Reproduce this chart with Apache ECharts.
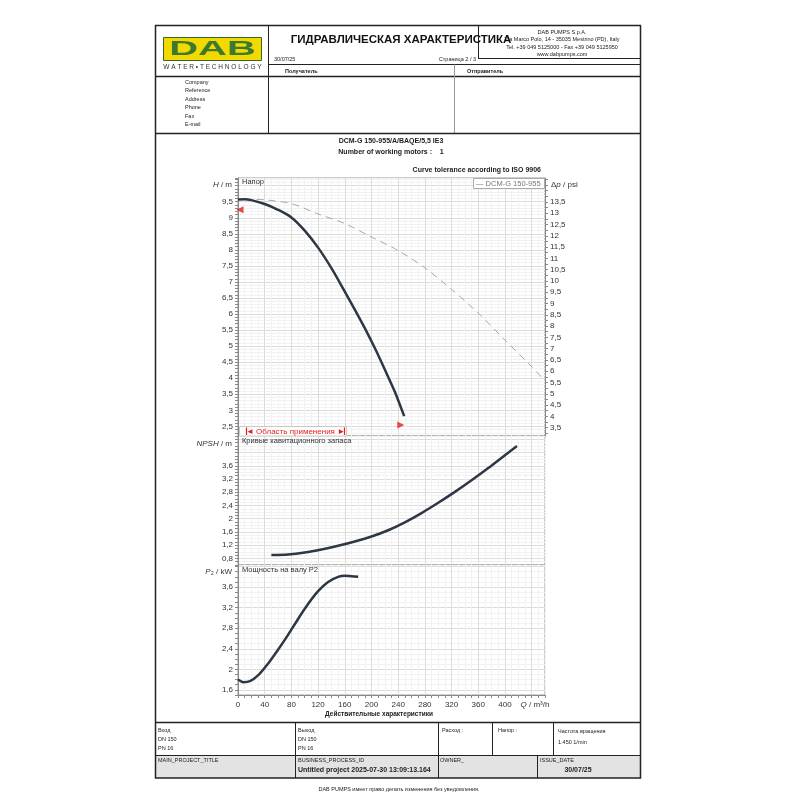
<!DOCTYPE html>
<html>
<head>
<meta charset="utf-8">
<title>DCM-G 150-955</title>
<script src="https://cdn.jsdelivr.net/npm/echarts@6/dist/echarts.min.js"></script>
<style>
  html, body { margin: 0; background: #fff; }
  #chart { width: 800px; height: 800px; }
</style>
</head>
<body>
<div id="chart"></div>
<script>
// tick labels
const qLabels = [0, 40, 80, 120, 160, 200, 240, 280, 320, 360, 400]
const hLabels = [2.5, 3, 3.5, 4, 4.5, 5, 5.5, 6, 6.5, 7, 7.5, 8, 8.5, 9, 9.5]
const psiLabels = [3.5, 4, 4.5, 5, 5.5, 6, 6.5, 7, 7.5, 8, 8.5, 9, 9.5, 10, 10.5, 11, 11.5, 12, 12.5, 13, 13.5]
const npshLabels = [0.8, 1.2, 1.6, 2, 2.4, 2.8, 3.2, 3.6]
const powerLabels = [1.6, 2, 2.4, 2.8, 3.2, 3.6]

// head curve (m)
const qHead = [0, 10, 20, 40, 60, 80, 100, 120, 140, 160, 175, 190, 205, 220, 235, 243, 249]
const head = [9.57, 9.58, 9.55, 9.43, 9.25, 9.01, 8.6, 8.07, 7.43, 6.7, 6.14, 5.56, 4.94, 4.27, 3.58, 3.15, 2.82]

// dashed curve (m)
const qTol = [10, 40, 80, 120, 160, 200, 240, 280, 320, 360, 400, 440, 460]
const headTol = [9.58, 9.56, 9.44, 9.12, 8.82, 8.4, 7.98, 7.44, 6.77, 6.03, 5.19, 4.36, 3.92]

// tolerance marks (Q, H)
const tolMarks = [[3, 9.25], [244, 2.54]]

// NPSH (m)
const qNpsh = [50, 75, 100, 125, 150, 175, 200, 225, 250, 275, 300, 325, 350, 375, 400, 418]
const npsh = [0.9, 0.92, 0.98, 1.07, 1.18, 1.31, 1.46, 1.65, 1.89, 2.17, 2.48, 2.81, 3.16, 3.53, 3.92, 4.2]

// P2 (kW)
const qPower = [0, 8, 18, 30, 45, 60, 75, 90, 105, 120, 135, 150, 160, 170, 180]
const power = [1.8, 1.75, 1.77, 1.88, 2.11, 2.38, 2.67, 2.98, 3.27, 3.52, 3.7, 3.8, 3.82, 3.81, 3.8]

const M_TO_PSI = 1.4219
const H_MIN = 2.2
const H_MAX = 10.24

const FONT = '"Liberation Sans", Arial, sans-serif'
const MAJOR = '#dcdcdc'
const MINOR = '#f2f2f2'
const RED = '#e21d1d'
const CURVE = '#2e3744'

const fmt = v => String(Math.round(v * 100) / 100).replace('.', ',')
const pairs = (xs, ys) => xs.map((x, i) => [x, ys[i]])

const psiTicks = []
for (let p = 3.25; p <= 14.5; p += 0.25) psiTicks.push(Math.round(p * 100) / 100)

function qAxis(gridIndex, withLabels) {
  return {
    type: 'value',
    gridIndex: gridIndex,
    min: 0,
    max: 460,
    interval: 10,
    axisLine: { show: withLabels, lineStyle: { color: '#888' } },
    axisTick: { show: withLabels, length: 3, lineStyle: { color: '#888' } },
    axisLabel: withLabels ? {
      customValues: qLabels.concat([445]),
      formatter: v => v > 420 ? '{i|Q} / m³/h' : fmt(v),
      rich: { i: { fontStyle: 'italic', fontSize: 8, color: '#333', fontFamily: FONT } },
      fontSize: 8,
      color: '#333',
      fontFamily: FONT,
      margin: 6
    } : { show: false },
    splitLine: { show: true, lineStyle: { color: [MAJOR, MINOR, MINOR, MINOR], width: 1 } }
  }
}

function yAxis(gridIndex, min, max, labels, colors) {
  return {
    type: 'value',
    gridIndex: gridIndex,
    position: 'left',
    min: min,
    max: max,
    interval: 0.1,
    axisLine: { show: true, lineStyle: { color: '#888' } },
    axisTick: { show: true, length: 3, lineStyle: { color: '#888' } },
    axisLabel: { customValues: labels, formatter: fmt, fontSize: 8, color: '#333', fontFamily: FONT, margin: 5 },
    splitLine: { show: true, lineStyle: { color: colors, width: 1 } }
  }
}

// page furniture
const g = []
function line(x1, y1, x2, y2, color, width) {
  g.push({ type: 'line', z: 50, silent: true, shape: { x1, y1, x2, y2 },
    style: { stroke: color || '#222', lineWidth: width || 1 } })
}
function rect(x, y, w, h, fill, stroke, lw) {
  g.push({ type: 'rect', z: 50, silent: true, shape: { x, y, width: w, height: h },
    style: { fill: fill || 'rgba(0,0,0,0)', stroke: stroke || null, lineWidth: lw || 1 } })
}
function text(x, y, t, o) {
  o = o || {}
  g.push({ type: 'text', z: 51, silent: true, x, y, scaleX: o.sx || 1,
    style: {
      text: t, fill: o.color || '#222', fontSize: o.size || 6, fontWeight: o.bold ? 'bold' : 'normal',
      fontFamily: FONT, textAlign: o.align || 'left', textVerticalAlign: 'middle',
      rich: { i: { fontStyle: 'italic', fontSize: o.size || 6, fill: o.color || '#222', fontFamily: FONT } }
    } })
}

// bottom grey row
rect(155, 755, 486, 23, '#e3e3e3')
// outer frame
rect(155.5, 25.5, 485, 752.5, null, '#222', 1.5)
line(268.5, 25, 268.5, 133)
line(478.5, 25, 478.5, 58.5)
line(478, 58.5, 641, 58.5)
line(268, 64.5, 641, 64.5)
line(155, 76.5, 641, 76.5, '#222', 1.5)
line(454.5, 64.5, 454.5, 133, '#999')
line(155, 133.5, 641, 133.5, '#222', 1.5)
line(155, 722.5, 641, 722.5, '#222', 1.5)
line(155, 755.5, 641, 755.5)
;[295.5, 438.5, 492.5, 553.5].forEach(x => line(x, 722.5, x, 755.5))
;[295.5, 438.5, 537.5].forEach(x => line(x, 755.5, x, 778))

// logo
rect(163.5, 37.5, 98, 23, '#f2da00', '#35652b', 1)
text(212.5, 49.5, 'DAB', { size: 20, bold: true, color: '#3b7a2e', align: 'center', sx: 2 })
text(212.5, 67.5, 'W A T E R • T E C H N O L O G Y', { size: 6.5, color: '#333', align: 'center' })

// header
text(562, 32, 'DAB PUMPS S.p.A.', { size: 5.5, align: 'center' })
text(562, 39.5, 'Via Marco Polo, 14 - 35035 Mestrino (PD), Italy', { size: 5.5, align: 'center' })
text(562, 47, 'Tel. +39 049 5125000 - Fax +39 049 5125950', { size: 5.5, align: 'center' })
text(562, 54, 'www.dabpumps.com', { size: 5.5, align: 'center' })
text(401, 40, 'ГИДРАВЛИЧЕСКАЯ ХАРАКТЕРИСТИКА', { size: 11.5, bold: true, align: 'center', color: '#111' })
text(274, 59, '30/07/25', { size: 5.5 })
text(476, 59, 'Страница 2 / 3', { size: 5.5, align: 'right' })
text(285, 71, 'Получатель', { size: 5.5, bold: true })
text(467, 71, 'Отправитель', { size: 5.5, bold: true })
;['Company', 'Reference', 'Address', 'Phone', 'Fax', 'E-mail'].forEach((t, i) =>
  text(185, 82 + i * 8.5, t, { size: 5.5 }))

// chart heading
text(391, 141.5, 'DCM-G 150-955/A/BAQE/5,5 IE3', { size: 7, bold: true, align: 'center' })
text(391, 152.5, 'Number of working motors :    1', { size: 7, bold: true, align: 'center' })
text(541, 170, 'Curve tolerance according to ISO 9906', { size: 7, bold: true, align: 'right' })

// panel captions and axis names
text(242, 181.5, 'Напор', { size: 7.5, color: '#333' })
text(242, 441, 'Кривые кавитационного запаса', { size: 7.5, color: '#333' })
text(242, 569.5, 'Мощность на валу P2', { size: 7.5, color: '#333' })
text(232, 185, '{i|H} / m', { size: 8, align: 'right', color: '#333' })
text(232, 443.5, '{i|NPSH} / m', { size: 8, align: 'right', color: '#333' })
text(232, 572, '{i|P}₂ / kW', { size: 8, align: 'right', color: '#333' })
text(551, 185, 'Δ{i|p} / psi', { size: 8, color: '#333' })
text(379, 714.5, 'Действительные характеристики', { size: 6.5, bold: true, align: 'center' })

// legend box
rect(473.5, 178.5, 71, 10, '#fff', '#aaa', 1)
text(476, 183.5, '— DCM-G 150-955', { size: 7.5, color: '#777' })

// operating range box
rect(239.5, 426.5, 107, 9.5, '#fff', '#c8c8c8', 1)
line(246.5, 427.5, 246.5, 435, RED, 1.2)
line(344.5, 427.5, 344.5, 435, RED, 1.2)
text(295.5, 431.5, '◄ Область применения ►', { size: 8, color: RED, align: 'center' })

// bottom table
text(158, 730, 'Вход', { size: 5.5 })
text(158, 739, 'DN 150', { size: 5.5 })
text(158, 748, 'PN 16', { size: 5.5 })
text(298, 730, 'Выход', { size: 5.5 })
text(298, 739, 'DN 150', { size: 5.5 })
text(298, 748, 'PN 16', { size: 5.5 })
text(442, 730, 'Расход :', { size: 5.5 })
text(498, 730, 'Напор :', { size: 5.5 })
text(558, 731, 'Частота вращения', { size: 5.5 })
text(558, 742, '1.450 1/min', { size: 5.5 })
text(158, 760.5, 'MAIN_PROJECT_TITLE', { size: 5.5 })
text(298, 760.5, 'BUSINESS_PROCESS_ID', { size: 5.5 })
text(298, 770.5, 'Untitled project 2025-07-30 13:09:13.164', { size: 7, bold: true })
text(440, 760.5, 'OWNER_', { size: 5.5 })
text(540, 760.5, 'ISSUE_DATE', { size: 5.5 })
text(578, 770.5, '30/07/25', { size: 7, bold: true, align: 'center' })
text(399, 789, 'DAB PUMPS имеет право делать изменения без уведомления.', { size: 5.5, align: 'center' })

const chart = echarts.init(document.getElementById('chart'))

chart.setOption({
  animation: false,
  backgroundColor: '#fff',
  grid: [
    { left: 238, top: 178, width: 307, height: 258, show: true, borderColor: '#999', borderWidth: 1, backgroundColor: '#fff' },
    { left: 238, top: 436, width: 307, height: 129, show: true, borderColor: '#999', borderWidth: 1, backgroundColor: '#fff' },
    { left: 238, top: 565, width: 307, height: 130, show: true, borderColor: '#999', borderWidth: 1, backgroundColor: '#fff' }
  ],
  xAxis: [qAxis(0, false), qAxis(1, false), qAxis(2, true)],
  yAxis: [
    yAxis(0, H_MIN, H_MAX, hLabels, [MINOR, MINOR, MINOR, MAJOR, MINOR]),
    {
      type: 'value',
      gridIndex: 0,
      position: 'right',
      min: H_MIN * M_TO_PSI,
      max: H_MAX * M_TO_PSI,
      axisLine: { show: true, lineStyle: { color: '#888' } },
      axisTick: { show: true, length: 3, customValues: psiTicks, lineStyle: { color: '#888' } },
      axisLabel: { customValues: psiLabels, formatter: fmt, fontSize: 8, color: '#333', fontFamily: FONT, margin: 5 },
      splitLine: { show: false }
    },
    yAxis(1, 0.6, 4.5, npshLabels, [MINOR, MINOR, MAJOR, MINOR]),
    yAxis(2, 1.5, 4.03, powerLabels, [MINOR, MAJOR, MINOR, MINOR])
  ],
  graphic: { elements: g },
  series: [
    {
      name: 'DCM-G 150-955 tolerance',
      type: 'line',
      xAxisIndex: 0,
      yAxisIndex: 0,
      data: pairs(qTol, headTol),
      smooth: 0.3,
      showSymbol: false,
      lineStyle: { color: '#a8a8a8', width: 1, type: [7, 5] },
      z: 4
    },
    {
      name: 'DCM-G 150-955',
      type: 'line',
      xAxisIndex: 0,
      yAxisIndex: 0,
      data: pairs(qHead, head),
      smooth: 0.3,
      showSymbol: false,
      lineStyle: { color: CURVE, width: 2.5 },
      z: 5
    },
    {
      type: 'scatter',
      xAxisIndex: 0,
      yAxisIndex: 0,
      symbol: 'triangle',
      symbolSize: 7,
      itemStyle: { color: RED },
      data: [
        { value: tolMarks[0], symbolRotate: 90 },
        { value: tolMarks[1], symbolRotate: -90 }
      ],
      z: 6
    },
    {
      name: 'NPSH',
      type: 'line',
      xAxisIndex: 1,
      yAxisIndex: 2,
      data: pairs(qNpsh, npsh),
      smooth: 0.3,
      showSymbol: false,
      lineStyle: { color: CURVE, width: 2.5 },
      z: 5
    },
    {
      name: 'P2',
      type: 'line',
      xAxisIndex: 2,
      yAxisIndex: 3,
      data: pairs(qPower, power),
      smooth: 0.3,
      showSymbol: false,
      lineStyle: { color: CURVE, width: 2.5 },
      z: 5
    }
  ]
})
</script>
</body>
</html>
